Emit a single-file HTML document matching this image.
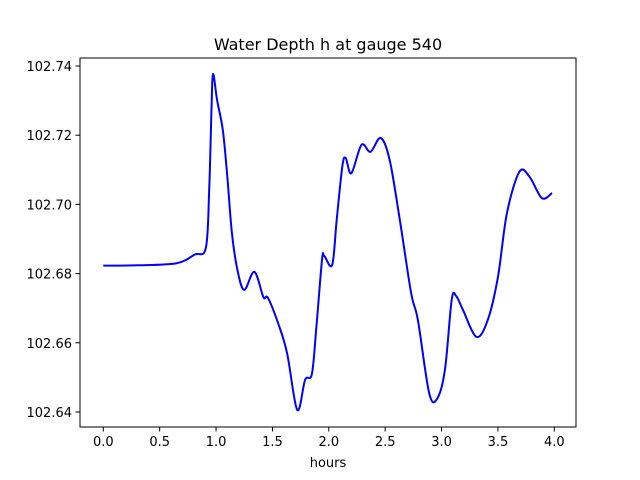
<!DOCTYPE html>
<html><head><meta charset="utf-8"><style>
body{margin:0;background:#fff;}
svg{display:block;font-family:"DejaVu Sans","Liberation Sans",sans-serif;}
</style></head><body>
<svg id="chart" width="640" height="480">
<rect x="0" y="0" width="640" height="480" fill="#fff"/>
<text x="328" y="50" font-size="16" text-anchor="middle">Water Depth h at gauge 540</text>
<text x="328" y="467" font-size="13" text-anchor="middle">hours</text>
<g id="ticks"></g>
<path id="line" fill="none" stroke="#0000ff" stroke-width="2"/>
<rect x="80" y="58" width="496" height="369" fill="none" stroke="#000" stroke-width="1"/>
</svg>
<script>
const hours = [0,0.3,0.65,0.81,0.91,0.94,0.96,0.973,1.01,1.06,1.10,1.14,1.19,1.25,1.34,1.42,1.46,1.55,1.63,1.72,1.79,1.85,1.89,1.94,1.96,2.03,2.07,2.12,2.15,2.20,2.29,2.37,2.46,2.54,2.63,2.73,2.79,2.89,2.96,3.03,3.09,3.13,3.19,3.31,3.41,3.50,3.58,3.69,3.78,3.89,3.98];
const depth = [102.6823,102.6824,102.6830,102.6855,102.6875,102.705,102.728,102.7377,102.7300,102.7215,102.708,102.692,102.681,102.6753,102.6805,102.6732,102.6730,102.6657,102.6570,102.6406,102.6493,102.6510,102.6646,102.6840,102.6851,102.6825,102.6955,102.7110,102.7134,102.7090,102.7172,102.7152,102.7192,102.7128,102.6955,102.6744,102.6666,102.6455,102.6438,102.6522,102.6724,102.6735,102.6695,102.6617,102.6666,102.6790,102.6975,102.7094,102.7080,102.7018,102.7033];
const xTicks = [0,0.5,1,1.5,2,2.5,3,3.5,4];
const xTickLabels = ["0.0","0.5","1.0","1.5","2.0","2.5","3.0","3.5","4.0"];
const yTicks = [102.64,102.66,102.68,102.70,102.72,102.74];
const yTickLabels = ["102.64","102.66","102.68","102.70","102.72","102.74"];

function xs(h){return 103.3 + h*112.75;}
function ys(v){return 66 + (102.74 - v)*3460;}
const NS="http://www.w3.org/2000/svg";
const g=document.getElementById('ticks');
xTicks.forEach((t,i)=>{
  const l=document.createElementNS(NS,'line');
  l.setAttribute('x1',xs(t));l.setAttribute('x2',xs(t));l.setAttribute('y1',427);l.setAttribute('y2',431.5);l.setAttribute('stroke','#000');
  
  
  g.appendChild(l);
  const tx=document.createElementNS(NS,'text');
  tx.setAttribute('x',xs(t));tx.setAttribute('y',446);tx.setAttribute('font-size','13');tx.setAttribute('text-anchor','middle');
  tx.textContent=xTickLabels[i];
  
  
  g.appendChild(tx);
});
yTicks.forEach((t,i)=>{
  const l=document.createElementNS(NS,'line');
  l.setAttribute('x1',75.5);l.setAttribute('x2',80);l.setAttribute('y1',ys(t));l.setAttribute('y2',ys(t));l.setAttribute('stroke','#000');
  
  
  g.appendChild(l);
  const tx=document.createElementNS(NS,'text');
  tx.setAttribute('x',72);tx.setAttribute('y',ys(t)+5);tx.setAttribute('font-size','13');tx.setAttribute('text-anchor','end');
  tx.textContent=yTickLabels[i];
  
  
  g.appendChild(tx);
});
const P=hours.map((h,i)=>[xs(h),ys(depth[i])]);
let d='M'+P[0][0].toFixed(2)+','+P[0][1].toFixed(2);
for(let i=0;i<P.length-1;i++){
  const p0=P[Math.max(0,i-1)],p1=P[i],p2=P[i+1],p3=P[Math.min(P.length-1,i+2)];
  const c1=[p1[0]+(p2[0]-p0[0])/6,p1[1]+(p2[1]-p0[1])/6];
  const c2=[p2[0]-(p3[0]-p1[0])/6,p2[1]-(p3[1]-p1[1])/6];
  d+=' C'+c1[0].toFixed(2)+','+c1[1].toFixed(2)+' '+c2[0].toFixed(2)+','+c2[1].toFixed(2)+' '+p2[0].toFixed(2)+','+p2[1].toFixed(2);
}
document.getElementById('line').setAttribute('d',d);
</script>
</body></html>
